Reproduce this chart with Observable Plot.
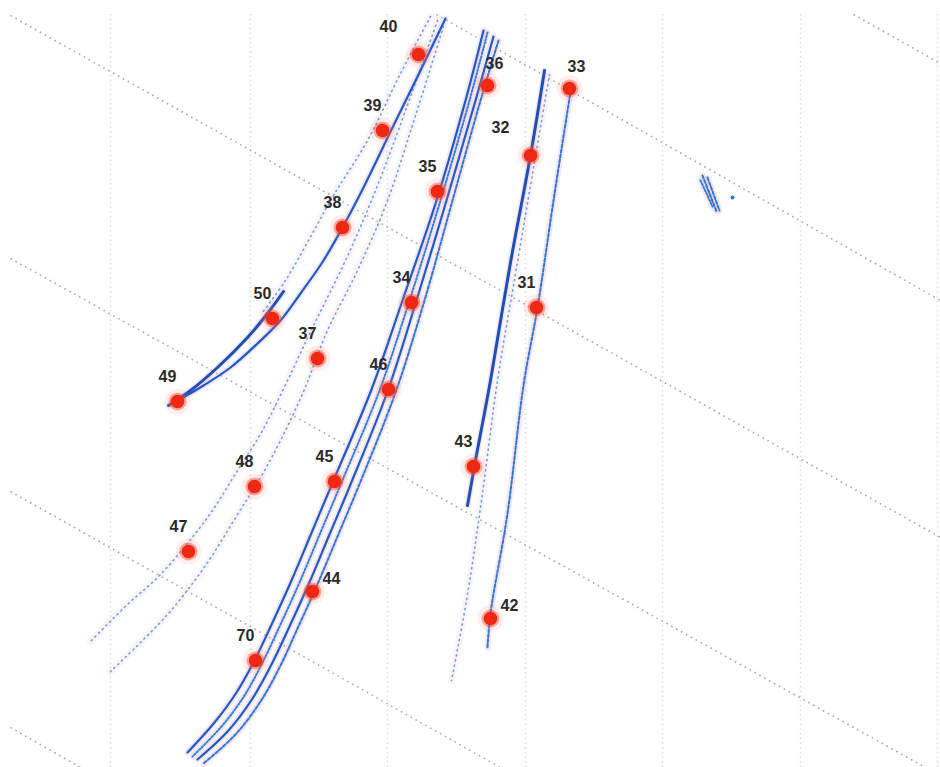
<!DOCTYPE html>
<html><head><meta charset="utf-8">
<script src="https://cdn.jsdelivr.net/npm/d3@7"></script>
<script src="https://cdn.jsdelivr.net/npm/@observablehq/plot@0.6"></script>
<style>body{margin:0;background:#fff;}</style>
</head><body><div id="chart"></div>
<script>
// ---- grid (local plane coordinates) ----
const gridX = [110, 250, 387, 525, 662, 800, 937];
const rangeX1 = [853, 436, 10, 10, 10, 10];
const rangeY1 = [14, 14, 15, 258, 491, 727];
const rangeX2 = [940, 940, 940, 925, 500, 80];
const rangeY2 = [63, 300, 537, 767, 767, 767];

// ---- tracks ----
const trackT1 = [[445,18],[420,70],[393,125],[360,193],[342,227],[323,260],[300,293],[280,320],[257,343],[230,367],[203,385],[183,397],[178,400]];
const trackT2 = [[283,291],[267,313],[247,337],[217,367],[190,390],[168,405]];
const trackF1 = [[430,16],[400,73],[367,140],[333,195],[308,240],[285,280],[262,312]];
const trackF2 = [[437,20],[405,110],[375,190],[345,260],[313,325],[287,380],[262,430],[237,470],[207,517],[160,574],[127,604],[90,641]];
const trackF3 = [[443,26],[415,115],[387,200],[357,270],[327,330],[303,391],[280,440],[260,477],[237,514],[205,565],[167,614],[110,671]];
const trackM1 = [[483,30],[465,100],[436,200],[402,300],[371,389],[333,480],[312,530],[291,580],[272,622],[254,660],[236,692],[214,722],[187,752]];
const trackM2 = [[487,32],[469,100],[440,200],[409,300],[379,390],[341,482],[320,532],[299,582],[280,624],[262,662],[244,695],[221,726],[192,756]];
const trackM3 = [[493,36],[475,100],[446,200],[416,300],[387,391],[350,484],[329,534],[308,584],[289,626],[271,664],[252,698],[228,730],[197,759]];
const trackM4 = [[498,40],[480,100],[452,200],[424,300],[395,392],[358,486],[337,536],[316,586],[297,628],[279,667],[260,701],[235,734],[203,763]];
const trackR1 = [[544,70],[530,155],[510,262],[490,380],[475,460],[467,505]];
const trackR2 = [[549,74],[530,185],[513,285],[497,380],[481,500],[466,600],[451,680]];
const trackR3 = [[571,85],[553,200],[537,307],[523,385],[507,513],[490,613],[487,647]];
const trackC1 = [[702,175],[716,211]];
const trackC2 = [[707,177],[719,210]];
const trackC3 = [[700,180],[712,206]];
const clusterDot = [[732,197]];

const trackNames = ["T1","T2","F1","F2","F3","M1","M2","M3","M4","R1","R2","R3","C1","C2","C3"];
const trackPoints = [trackT1,trackT2,trackF1,trackF2,trackF3,trackM1,trackM2,trackM3,trackM4,trackR1,trackR2,trackR3,trackC1,trackC2,trackC3];
const trackKind = ["solid","heavy","faint","faint","faint","solid","dotted","solid","dashed","heavy","faint","dashed","dashed","dashed","dotted"];

// ---- targets ----
const pointLabel = ["40","39","38","50","37","49","35","34","46","36","33","32","31","43","45","48","47","44","70","42"];
const pointX = [418,382,342,272,317,177,437,411,388,487,569,530,536,473,334,254,188,312,255,490];
const pointY = [54,130,227,318,358,401,191,302,389,85,88,155,307,466,481,486,551,591,660,618];
const labelSide = ["upleft","up","up","up","up","up","up","up","up","upright","upright","upleft","up","up","up","up","up","right","up","right"];

// ---- build tables ----
const rangeLines = rangeX1.map((d,i)=>({x1:d,y1:rangeY1[i],x2:rangeX2[i],y2:rangeY2[i]}));
const trackRows = trackNames.flatMap((n,i)=>trackPoints[i].map(([x,y])=>({track:n,kind:trackKind[i],x,y})));
const points = pointLabel.map((l,i)=>({label:l,x:pointX[i],y:pointY[i],side:labelSide[i]}));
const kind = k => d => d.kind === k;
const side = s => d => d.side === s;
const offsets = {up:[-10,-25], upleft:[-30,-28], upright:[7,-22], right:[19,-13]};
const font = "Liberation Sans, Arial, Helvetica, sans-serif";
const curve = "catmull-rom";

const chart = Plot.plot({
  width: 940, height: 767, margin: 0,
  x: {domain: [0, 940], range: [0, 940], axis: null},
  y: {domain: [0, 767], range: [0, 767], axis: null},
  style: {background: "#fff"},
  marks: [
    Plot.ruleX(gridX, {y1: 14, y2: 767, stroke: "#d6d6d6", strokeWidth: 1.5, strokeDasharray: "1.2,3.5"}),
    Plot.link(rangeLines, {x1:"x1", y1:"y1", x2:"x2", y2:"y2", stroke: "#a8a8a8", strokeWidth: 1.6, strokeDasharray: "1.6,4"}),
    // pink scanner halo
    Plot.line(trackRows, {filter: d => d.kind !== "faint", x:"x", y:"y", z:"track", curve, stroke:"#f0a8c8", strokeWidth:6, strokeOpacity:0.3}),
    Plot.line(trackRows, {filter: kind("faint"), x:"x", y:"y", z:"track", curve, stroke:"#f4c0d8", strokeWidth:7, strokeOpacity:0.18}),
    Plot.line(trackRows, {filter: kind("faint"), x:"x", y:"y", z:"track", curve, stroke:"#4a94e6", strokeWidth:1.6, strokeDasharray:"1.2,4", strokeOpacity:0.85}),
    Plot.line(trackRows, {filter: kind("dotted"), x:"x", y:"y", z:"track", curve, stroke:"#2f7fdc", strokeWidth:2, strokeDasharray:"1.5,2"}),
    Plot.line(trackRows, {filter: kind("dashed"), x:"x", y:"y", z:"track", curve, stroke:"#2a78d8", strokeWidth:2, strokeDasharray:"3,2"}),
    Plot.line(trackRows, {filter: kind("solid"), x:"x", y:"y", z:"track", curve, stroke:"#1c5cc8", strokeWidth:2.2}),
    Plot.line(trackRows, {filter: kind("heavy"), x:"x", y:"y", z:"track", curve, stroke:"#1a50b8", strokeWidth:3}),
    Plot.dot(clusterDot, {x: d=>d[0], y: d=>d[1], r: 2, fill: "#2a78d8"}),
    // targets
    Plot.dot(points, {x:"x", y:"y", r: 13, fill: "#ff8a70", fillOpacity: 0.14}),
    Plot.dot(points, {x:"x", y:"y", r: 9, fill: "#f34a30", fillOpacity: 0.45}),
    Plot.dot(points, {x:"x", y:"y", r: 6.8, fill: "#ef2816"}),
    ...Object.entries(offsets).map(([s,[dx,dy]]) =>
      Plot.text(points, {filter: side(s), x:"x", y:"y", text:"label", dx, dy,
        fontSize: 16, fontWeight: "bold", fill: "#2a2a2a", fontFamily: font}))
  ]
});
document.getElementById("chart").append(chart);
</script>
</body></html>
